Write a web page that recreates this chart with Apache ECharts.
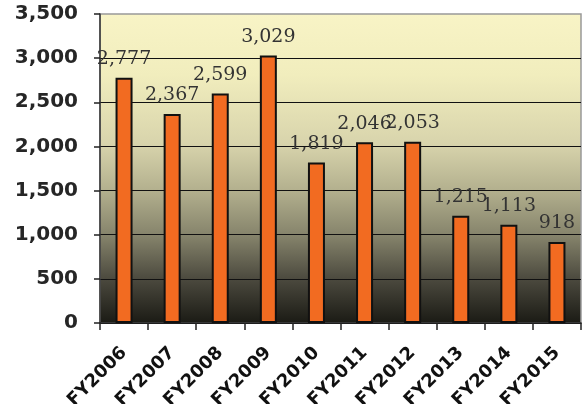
<!DOCTYPE html>
<html>
<head>
<meta charset="utf-8">
<script src="https://cdn.jsdelivr.net/npm/echarts@6/dist/echarts.min.js"></script>
<style>
html,body{margin:0;padding:0;background:#fff;}
#c{width:585px;height:404px;}
</style>
</head>
<body>
<div id="c"></div>
<script>
const categories = ['FY2006','FY2007','FY2008','FY2009','FY2010','FY2011','FY2012','FY2013','FY2014','FY2015'];
const values = [2777, 2367, 2599, 3029, 1819, 2046, 2053, 1215, 1113, 918];
const yMin = 0, yMax = 3500, yStep = 500;

const fmt = v => Number(v).toLocaleString('en-US');

const chart = echarts.init(document.getElementById('c'), null, {renderer:'canvas'});
chart.setOption({
  animation: false,
  backgroundColor: '#ffffff',
  grid: {
    left: 100, right: 4, top: 14, bottom: 81,
    containLabel: false,
    outerBoundsMode: 'none',
    show: true,
    borderColor: '#999',
    borderWidth: 1.5,
    backgroundColor: new echarts.graphic.LinearGradient(0, 0, 0, 1, [
      {offset: 0, color: '#f8f4c6'},
      {offset: 0.2, color: '#f1edbd'},
      {offset: 0.42, color: '#d8d4ac'},
      {offset: 0.57, color: '#b3b08e'},
      {offset: 0.72, color: '#84826a'},
      {offset: 0.86, color: '#4a483d'},
      {offset: 1, color: '#1a1a14'}
    ])
  },
  xAxis: {
    type: 'category',
    data: categories,
    boundaryGap: true,
    axisLine: {show: true, lineStyle: {color: '#222', width: 1.5}},
    axisTick: {show: true, alignWithLabel: false, length: 7, lineStyle: {color: '#222', width: 1.5}},
    axisLabel: {
      interval: 0, rotate: 45, margin: 27,
      fontFamily: 'DejaVu Sans', fontWeight: 'bold', fontSize: 18, color: '#111'
    },
    splitLine: {show: false}
  },
  yAxis: {
    type: 'value',
    min: yMin, max: yMax, interval: yStep,
    axisLine: {show: true, lineStyle: {color: '#333', width: 1.5}},
    axisTick: {show: true, inside: false, length: 6, lineStyle: {color: '#222', width: 1.5}},
    axisLabel: {
      formatter: v => fmt(v), margin: 22,
      fontFamily: 'DejaVu Sans', fontWeight: 'bold', fontSize: 20, color: '#262626'
    },
    splitLine: {show: true, showMaxLine: false, lineStyle: {color: '#111', width: 1}}
  },
  series: [{
    type: 'bar',
    data: values,
    barWidth: 17,
    itemStyle: {color: '#f26b21', borderColor: '#111', borderWidth: 2},
    label: {
      show: true, position: 'top', distance: 9,
      formatter: p => fmt(p.value),
      fontFamily: 'DejaVu Serif', fontSize: 19, color: '#333'
    }
  }]
});
</script>
</body>
</html>
